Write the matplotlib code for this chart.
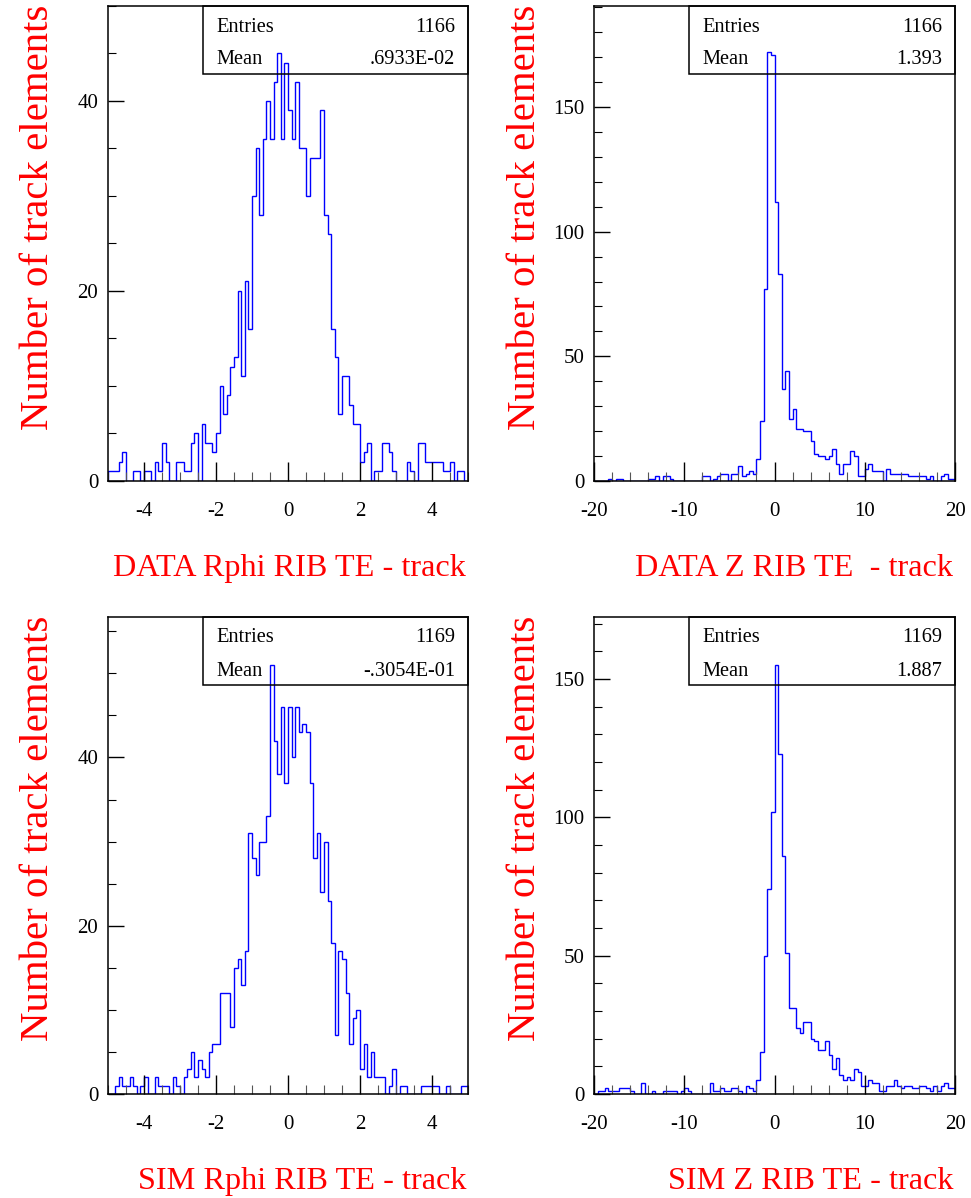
import matplotlib
matplotlib.use('Agg')
import matplotlib.pyplot as plt
import numpy as np
from matplotlib.ticker import MultipleLocator
from matplotlib.patches import Rectangle

plt.rcParams['font.family'] = ['Liberation Serif', 'DejaVu Serif']
plt.rcParams['axes.unicode_minus'] = False

# 100 bins each
rphi_edges = np.linspace(-5, 5, 101)
z_edges = np.linspace(-20, 20, 101)

data_rphi = [1, 1, 1, 2, 3, 0, 0, 1, 1, 0, 1, 1, 0, 2, 1, 4, 2, 0, 0, 2,
             2, 1, 1, 4, 5, 0, 6, 4, 4, 3, 5, 10, 7, 9, 12, 13, 20, 11, 21, 16,
             30, 35, 28, 36, 40, 36, 42, 45, 36, 44, 39, 36, 42, 35, 35, 30, 34, 34, 34, 39,
             28, 26, 16, 13, 7, 11, 11, 8, 6, 6, 2, 3, 4, 0, 1, 1, 4, 4, 3, 1,
             0, 0, 0, 2, 1, 0, 4, 4, 2, 2, 2, 2, 2, 1, 1, 2, 0, 1, 1, 0]

data_z = [0, 0, 0, 0, 1, 0, 1, 1, 0, 0, 0, 0, 0, 0, 0, 1, 1, 2, 0, 2,
          2, 1, 0, 0, 0, 0, 0, 0, 0, 0, 2, 2, 0, 1, 2, 3, 3, 0, 3, 3,
          6, 2, 3, 4, 3, 9, 24, 77, 172, 171, 112, 83, 37, 44, 25, 29, 21, 21, 20, 20,
          16, 11, 10, 10, 9, 10, 13, 7, 3, 7, 7, 12, 10, 2, 2, 5, 7, 4, 4, 4,
          0, 5, 3, 3, 3, 3, 3, 2, 2, 2, 2, 2, 1, 2, 0, 0, 2, 3, 1, 1]

sim_rphi = [0, 0, 1, 2, 1, 1, 2, 1, 0, 1, 2, 0, 0, 2, 1, 1, 1, 0, 2, 1,
            0, 2, 3, 5, 2, 4, 3, 2, 5, 6, 6, 12, 12, 12, 8, 15, 16, 13, 17, 31,
            28, 26, 30, 30, 33, 51, 42, 38, 46, 37, 46, 40, 46, 43, 44, 43, 37, 28, 31, 24,
            30, 23, 18, 7, 17, 16, 12, 6, 9, 10, 3, 6, 2, 5, 2, 2, 2, 0, 1, 3,
            0, 1, 1, 0, 0, 0, 0, 1, 1, 1, 1, 1, 0, 0, 1, 0, 0, 0, 1, 1]

sim_z = [0, 1, 1, 2, 1, 1, 1, 2, 2, 2, 1, 0, 0, 4, 0, 0, 1, 0, 0, 1,
         1, 1, 1, 0, 1, 2, 1, 0, 0, 0, 0, 0, 4, 1, 1, 2, 1, 1, 2, 2,
         1, 0, 3, 2, 1, 5, 15, 50, 74, 102, 155, 123, 86, 51, 31, 31, 24, 22, 26, 26,
         20, 19, 16, 16, 19, 14, 9, 13, 7, 5, 6, 5, 9, 8, 3, 3, 5, 4, 4, 1,
         1, 3, 3, 5, 3, 2, 3, 3, 2, 2, 3, 3, 2, 1, 3, 1, 3, 4, 2, 2]

entries = ['1166', '1166', '1169', '1169']
means = ['.6933E-02', '1.393', '-.3054E-01', '1.887']
xtitles = ['DATA Rphi RIB TE - track', 'DATA Z RIB TE  - track',
           'SIM Rphi RIB TE - track', 'SIM Z RIB TE - track']
ytitle = 'Number of track elements'

W, H = 971, 1198
fig = plt.figure(figsize=(W / 100, H / 100), dpi=100)

# (counts, edges, box in pixels l,t,r,b, ymax, ymajor, yminor, xmajor, xminor)
panels = [
    (data_rphi, rphi_edges, (108, 6, 468, 481), 50, 20, 5, 2, 0.5),
    (data_z, z_edges, (594, 6, 955, 481), 190.5, 50, 10, 10, 2),
    (sim_rphi, rphi_edges, (108, 617, 468, 1094), 56.7, 20, 5, 2, 0.5),
    (sim_z, z_edges, (594, 617, 955, 1094), 172.4, 50, 10, 10, 2),
]

for i, (counts, edges, (l, t, r, b), ymax, ymaj, ymin, xmaj, xmin) in enumerate(panels):
    ax = fig.add_axes([l / W, 1 - b / H, (r - l) / W, (b - t) / H])
    ax.stairs(counts, edges, color='#0000ff', lw=1.0)
    ax.set_xlim(edges[0], edges[-1])
    ax.set_ylim(0, ymax)
    ax.xaxis.set_major_locator(MultipleLocator(xmaj))
    ax.xaxis.set_minor_locator(MultipleLocator(xmin))
    ax.yaxis.set_major_locator(MultipleLocator(ymaj))
    ax.yaxis.set_minor_locator(MultipleLocator(ymin))
    ax.tick_params(axis='x', which='major', direction='in', length=14, width=1.0,
                   labelsize=15, pad=15)
    ax.tick_params(axis='x', which='minor', direction='in', length=6.5, width=0.8,
                   color='#555555')
    ax.tick_params(axis='y', which='major', direction='in', length=11.5, width=1.0,
                   labelsize=15, pad=7)
    ax.tick_params(axis='y', which='minor', direction='in', length=6, width=0.8)
    for s in ax.spines.values():
        s.set_linewidth(1.1)

    # stats box
    w, h = r - l, b - t
    ax.add_patch(Rectangle((95 / w, 1 - 68 / h), 1 - 95 / w, 68 / h,
                           transform=ax.transAxes, fill=False, lw=1.1,
                           edgecolor='black', clip_on=False, zorder=5))
    ax.text(108 / w, 1 - 21 / h, 'Entries', transform=ax.transAxes,
            fontsize=14.7, va='center', ha='left')
    ax.text(1 - 13 / w, 1 - 21 / h, entries[i], transform=ax.transAxes,
            fontsize=14.7, va='center', ha='right')
    ax.text(108 / w, 1 - 54 / h, 'Mean', transform=ax.transAxes,
            fontsize=14.7, va='center', ha='left')
    ax.text(1 - 13 / w, 1 - 54 / h, means[i], transform=ax.transAxes,
            fontsize=14.7, va='center', ha='right')

    # titles
    fig.text((r - 2) / W, 1 - (b + 95) / H, xtitles[i], color='red', fontsize=23.2,
             ha='right', va='baseline')
    fig.text((l - 69) / W, 1 - (t - 1) / H, ytitle, color='red', fontsize=29.4,
             rotation=90, ha='center', va='top')

fig.savefig('out.png', dpi=100)
